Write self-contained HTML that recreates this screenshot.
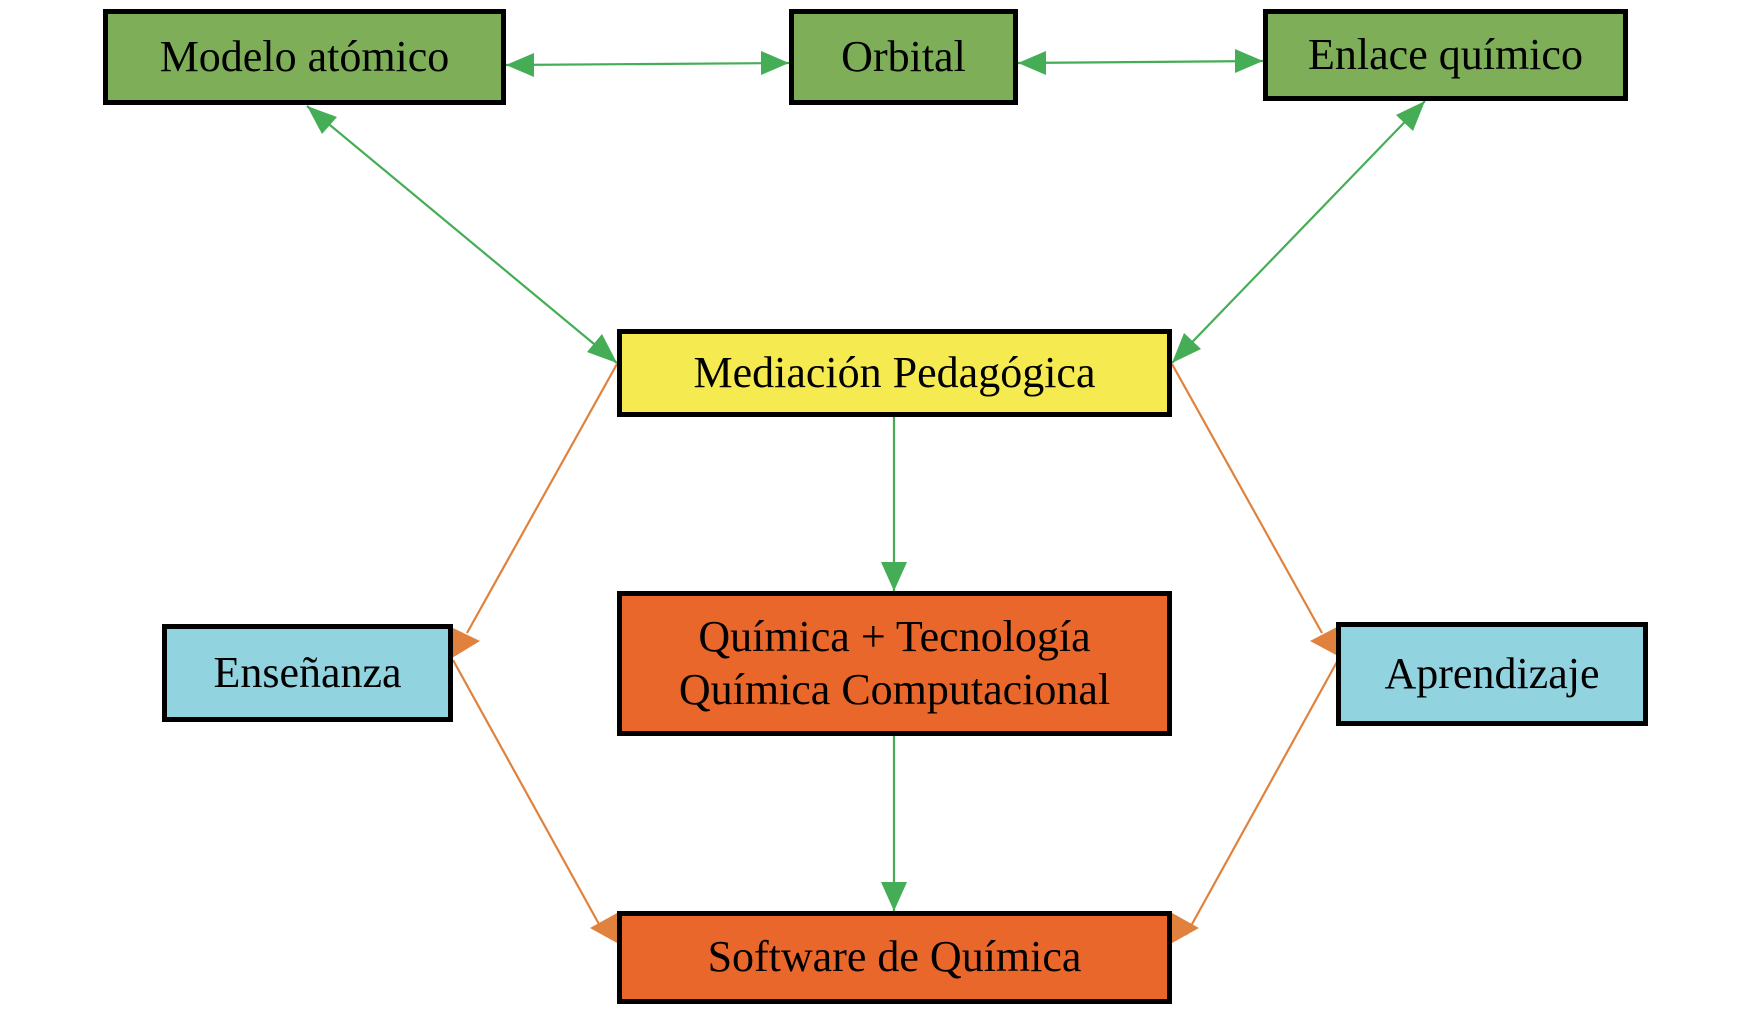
<!DOCTYPE html>
<html><head><meta charset="utf-8"><style>
html,body{margin:0;padding:0;background:#fff}
body{width:1752px;height:1013px;position:relative;overflow:hidden;font-family:"Liberation Serif",serif}
.b{position:absolute;box-sizing:border-box;border:5px solid #000;display:flex;align-items:center;justify-content:center;text-align:center;font-size:44px;line-height:1.2;color:#000}
.g{background:#7eae57}.y{background:#f5ea4f}.o{background:#ea672c}.c{background:#92d3e0}
svg{position:absolute;left:0;top:0}
</style></head><body>
<svg width="1752" height="1013">
<g stroke="#45ad55" stroke-width="2.2" fill="none">
<line x1="506" y1="65" x2="789" y2="63"/>
<line x1="1018" y1="63" x2="1263" y2="61"/>
<line x1="307" y1="106" x2="617" y2="363"/>
<line x1="1425" y1="101" x2="1172" y2="363"/>
<line x1="894" y1="417" x2="894" y2="591"/>
<line x1="894" y1="736" x2="894" y2="911"/>
</g>
<g fill="#45ad55">
<polygon points="506,65 534,53 534,77"/>
<polygon points="789,63 761,51 761,75"/>
<polygon points="1018,63 1046,51 1046,75"/>
<polygon points="1263,61 1235,49 1235,73"/>
<polygon points="307,106 337,117 322,134"/>
<polygon points="617,363 587,352 602,334"/>
<polygon points="1425,101 1413,131 1396,115"/>
<polygon points="1172,363 1184,333 1201,349"/>
<polygon points="894,591 881,562 907,562"/>
<polygon points="894,911 881,882 907,882"/>
</g>
<g stroke="#e0823d" stroke-width="2.2" fill="none">
<line x1="617" y1="364" x2="467" y2="633"/>
<line x1="453" y1="660" x2="605" y2="935"/>
<line x1="1172" y1="364" x2="1322" y2="633"/>
<line x1="1338" y1="660" x2="1186" y2="935"/>
</g>
<g fill="#e0823d">
<polygon points="453,628 480,641 452,658"/>
<polygon points="1337,627 1310,641 1338,656"/>
<polygon points="590,928 617,913 617,943"/>
<polygon points="1172,913 1199,928 1172,943"/>
</g>
</svg>
<div class="b g" style="left:103px;top:9px;width:403px;height:96px">Modelo atómico</div>
<div class="b g" style="left:789px;top:9px;width:229px;height:96px">Orbital</div>
<div class="b g" style="left:1263px;top:9px;width:365px;height:92px">Enlace químico</div>
<div class="b y" style="left:617px;top:329px;width:555px;height:88px">Mediación Pedagógica</div>
<div class="b o" style="left:617px;top:591px;width:555px;height:145px">Química + Tecnología<br>Química Computacional</div>
<div class="b c" style="left:162px;top:624px;width:291px;height:98px">Enseñanza</div>
<div class="b c" style="left:1336px;top:622px;width:312px;height:104px">Aprendizaje</div>
<div class="b o" style="left:617px;top:911px;width:555px;height:93px">Software de Química</div>
</body></html>
